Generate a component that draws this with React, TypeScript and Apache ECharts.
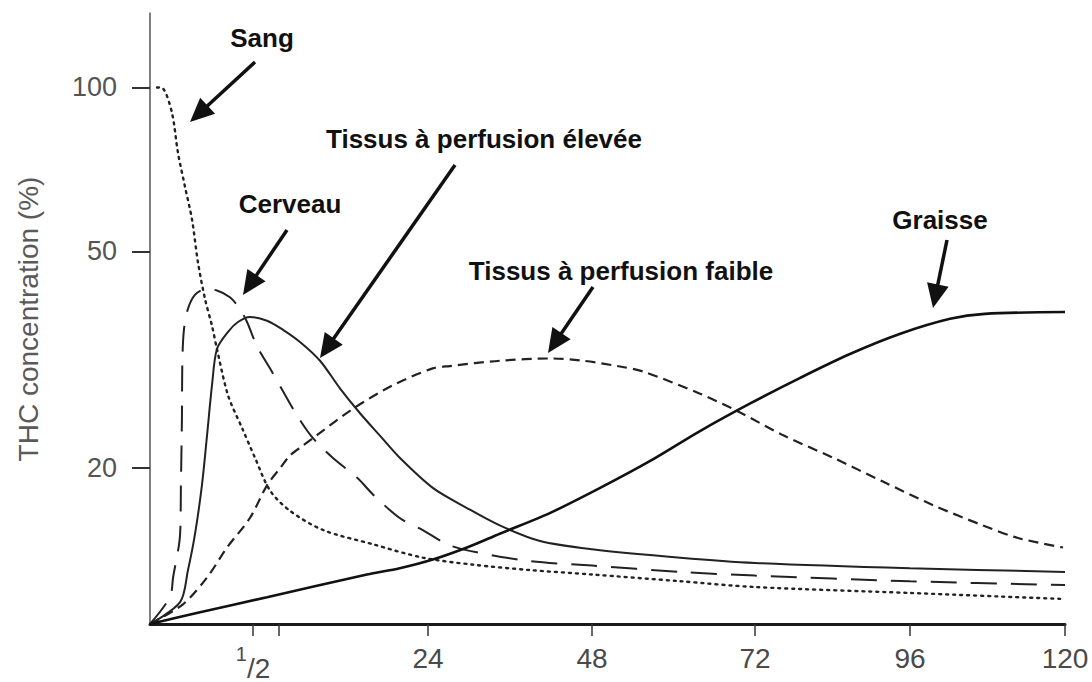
import React, { useEffect, useRef } from "react";
import * as echarts from "echarts";

// ---- Data (time in hours, concentration in %) ----
const sangHours = [0.034, 0.063, 0.107, 0.136, 0.17, 0.204, 0.233, 0.267, 0.301, 0.325, 0.379, 0.447, 0.77, 2.78, 5.47, 9.9, 16.6, 23.3, 30.6, 38.9, 48, 61, 72, 96, 120];
const sangValues = [100, 99.6, 89.7, 75.8, 65.7, 57.2, 47.7, 40.9, 36.5, 33.1, 27.2, 23.7, 20.9, 18.2, 16.7, 15.4, 14.5, 13.7, 13.3, 13.0, 12.76, 12.4, 12.1, 11.8, 11.5];

const cerveauHours = [0, 0.097, 0.112, 0.146, 0.15, 0.155, 0.157, 0.165, 0.184, 0.218, 0.267, 0.325, 0.388, 0.437, 0.471, 1.04, 2.78, 4.53, 6.41, 8.56, 11.2, 14.5, 16.6, 20.2, 23.3, 26.8, 30.1, 38.9, 48, 61, 72, 96, 120];
const cerveauValues = [10.35, 11.6, 12.6, 15.1, 18.6, 24.7, 31.4, 36.0, 39.2, 41.6, 42.6, 42.4, 41.2, 39.2, 37.1, 33.5, 30.5, 27.7, 25.0, 22.7, 20.9, 19.2, 17.9, 16.2, 15.4, 14.5, 14.1, 13.5, 13.25, 12.9, 12.7, 12.4, 12.2];

const eleveeHours = [0, 0.146, 0.184, 0.218, 0.252, 0.277, 0.301, 0.325, 0.379, 0.427, 0.485, 2.38, 4.53, 6.81, 9.5, 12.2, 14.9, 17.6, 20.2, 24.7, 29.7, 34.5, 40.4, 48, 61, 72, 96, 120];
const eleveeValues = [10.35, 11.35, 12.98, 15.1, 18.6, 23.0, 28.4, 33.1, 35.6, 37.1, 37.9, 37.3, 35.9, 34.1, 31.5, 28.0, 25.2, 22.9, 20.9, 18.4, 16.9, 15.7, 14.7, 14.2, 13.7, 13.4, 13.1, 12.9];

const faibleHours = [0, 0.16, 0.277, 0.374, 0.485, 2.38, 4.13, 5.47, 7.21, 9.09, 13.9, 19.3, 24.7, 27.2, 34.5, 41.9, 46.7, 51.7, 55.5, 63.9, 69.3, 76.3, 84.1, 91.8, 99.6, 107.3, 112.6, 119.7];
const faibleValues = [10.35, 11.25, 12.6, 14.3, 16.2, 18.6, 20.0, 21.1, 22.0, 23.0, 25.7, 28.4, 30.5, 30.8, 31.5, 31.8, 31.5, 30.8, 30.1, 27.4, 25.5, 23.0, 20.9, 18.9, 17.1, 15.7, 14.9, 14.3];

const graisseHours = [0, 0.243, 2.38, 15.8, 20.2, 24.7, 29.7, 34.5, 41.9, 49.2, 56.5, 63.9, 71.3, 79.0, 86.7, 94.5, 102.2, 107.6, 120];
const graisseValues = [10.35, 10.88, 11.59, 12.76, 13.1, 13.59, 14.3, 15.16, 16.56, 18.4, 20.6, 23.4, 26.3, 29.3, 32.4, 35.3, 37.6, 38.4, 38.7];

// Axis ticks
const xTickHours = [0.5, 4, 24, 48, 72, 96, 120];
const xLabelHours = [0.5, 24, 48, 72, 96, 120];
const xLabelTexts = ["1/2", "24", "48", "72", "96", "120"];
const yTickValues = [20, 50, 100];
const yAxisMin = 10.35;
const yAxisMax = 137;

const annotationTexts = ["Sang", "Cerveau", "Tissus à perfusion élevée", "Tissus à perfusion faible", "Graisse"];
const yAxisTitle = "THC concentration (%)";

// ---- Broken (piecewise) time axis, as drawn in the original figure ----
const WARP_HOURS = [0, 0.5, 24, 48, 72, 96, 120];
const WARP_POS = [0, 103, 278, 442, 605, 760, 915];
function toAxis(h: number): number {
  for (let i = 1; i < WARP_HOURS.length; i++) {
    if (h <= WARP_HOURS[i]) {
      const t = (h - WARP_HOURS[i - 1]) / (WARP_HOURS[i] - WARP_HOURS[i - 1]);
      return WARP_POS[i - 1] + t * (WARP_POS[i] - WARP_POS[i - 1]);
    }
  }
  return WARP_POS[WARP_POS.length - 1];
}
const toY = (v: number) => Math.log10(v);

function pairs(hours: number[], values: number[]) {
  return hours.map((h, i) => [toAxis(h), toY(values[i])]);
}

const FONT = '"Liberation Sans", Arial, Helvetica, sans-serif';

function arrow(x1: number, y1: number, x2: number, y2: number) {
  const ang = Math.atan2(y2 - y1, x2 - x1);
  const L = 24;
  const W = 11;
  const c = Math.cos(ang);
  const s = Math.sin(ang);
  const bx = x2 - L * c;
  const by = y2 - L * s;
  return [
    { type: "line", shape: { x1, y1, x2: bx + 2 * c, y2: by + 2 * s }, style: { stroke: "#111", lineWidth: 3.5 }, silent: true },
    {
      type: "polygon",
      shape: { points: [[x2, y2], [bx - W * s, by + W * c], [bx + W * s, by - W * c]] },
      style: { fill: "#111" },
      silent: true,
    },
  ];
}

function label(text: string, x: number, y: number) {
  return {
    type: "text",
    x,
    y,
    style: { text, fill: "#111", fontSize: 26, fontWeight: "bold", fontFamily: FONT, align: "center", verticalAlign: "middle" },
    silent: true,
  };
}

export default function App() {
  const ref = useRef<HTMLDivElement>(null);

  useEffect(() => {
    if (!ref.current) return;
    const chart = echarts.init(ref.current, null, { renderer: "svg" });
    const lineColor = "#222";
    const option: any = {
      animation: false,
      backgroundColor: "#ffffff",
      textStyle: { fontFamily: FONT },
      grid: { left: 150, right: 27, top: 13, bottom: 55, containLabel: false },
      xAxis: {
        type: "value",
        min: 0,
        max: WARP_POS[WARP_POS.length - 1],
        axisLine: { show: true, onZero: false, lineStyle: { color: "#1a1a1a", width: 3 } },
        axisTick: { show: true, length: 12, customValues: xTickHours.map(toAxis), lineStyle: { color: "#333", width: 1.5 } },
        axisLabel: {
          customValues: xLabelHours.map(toAxis),
          margin: 20,
          fontSize: 28,
          color: "#4a4a4a",
          formatter: (v: number) => {
            let best = 0;
            let d = Infinity;
            xLabelHours.forEach((h, i) => {
              const dd = Math.abs(toAxis(h) - v);
              if (dd < d) { d = dd; best = i; }
            });
            const t = xLabelTexts[best];
            if (t === "1/2") return "{a|1}{b|/2}";
            return t;
          },
          rich: {
            a: { fontSize: 20, color: "#4a4a4a", verticalAlign: "top", lineHeight: 20, fontFamily: FONT },
            b: { fontSize: 28, color: "#4a4a4a", verticalAlign: "bottom", lineHeight: 38, fontFamily: FONT },
          },
        },
        splitLine: { show: false },
      },
      yAxis: {
        type: "value",
        min: toY(yAxisMin),
        max: toY(yAxisMax),
        axisLine: { show: true, lineStyle: { color: "#555", width: 1.5 } },
        axisTick: { show: true, length: 18, customValues: yTickValues.map(toY), lineStyle: { color: "#333", width: 2 } },
        axisLabel: {
          customValues: yTickValues.map(toY),
          margin: 33,
          fontSize: 27,
          color: "#555",
          formatter: (v: number) => String(Math.round(Math.pow(10, v))),
        },
        splitLine: { show: false },
      },
      series: [
        {
          name: "Sang",
          type: "line",
          data: pairs(sangHours, sangValues),
          showSymbol: false,
          smooth: 0.3,
          lineStyle: { color: lineColor, width: 2.4, type: [2, 5], cap: "round" },
        },
        {
          name: "Cerveau",
          type: "line",
          data: pairs(cerveauHours, cerveauValues),
          showSymbol: false,
          smooth: 0.3,
          lineStyle: { color: lineColor, width: 2, type: [26, 14] },
        },
        {
          name: "Tissus à perfusion élevée",
          type: "line",
          data: pairs(eleveeHours, eleveeValues),
          showSymbol: false,
          smooth: 0.3,
          lineStyle: { color: lineColor, width: 2 },
        },
        {
          name: "Tissus à perfusion faible",
          type: "line",
          data: pairs(faibleHours, faibleValues),
          showSymbol: false,
          smooth: 0.3,
          lineStyle: { color: lineColor, width: 2.2, type: [10, 6] },
        },
        {
          name: "Graisse",
          type: "line",
          data: pairs(graisseHours, graisseValues),
          showSymbol: false,
          smooth: 0.3,
          lineStyle: { color: "#111", width: 2.6 },
        },
      ],
      graphic: [
        {
          type: "text",
          x: 28,
          y: 319,
          rotation: Math.PI / 2,
          style: { text: yAxisTitle, fill: "#5a5a5a", fontSize: 28, fontFamily: FONT, align: "center", verticalAlign: "middle" },
          silent: true,
        },
        label(annotationTexts[0], 262, 38),
        label(annotationTexts[1], 290, 204),
        label(annotationTexts[2], 484, 139),
        label(annotationTexts[3], 621, 271),
        label(annotationTexts[4], 940, 220),
        ...arrow(255, 62, 190, 122),
        ...arrow(287, 230, 243, 295),
        ...arrow(455, 165, 320, 358),
        ...arrow(593, 287, 548, 353),
        ...arrow(947, 240, 933, 308),
      ],
    };
    chart.setOption(option);
    return () => chart.dispose();
  }, []);

  return (
    <div
      ref={ref}
      style={{ position: "fixed", left: 0, top: 0, width: 1092, height: 682, background: "#fff" }}
    />
  );
}
